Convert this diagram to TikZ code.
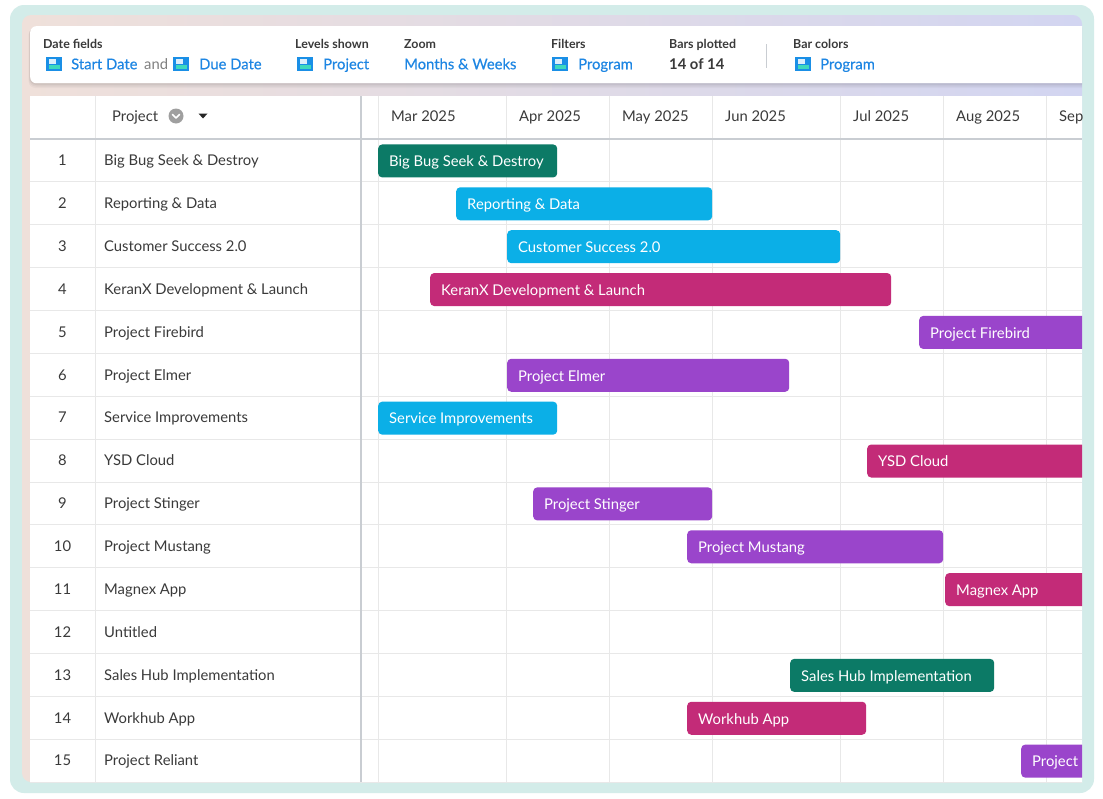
\documentclass[tikz,border=0pt]{standalone}
\usepackage{fontspec}
\setmainfont{Lato}
\definecolor{frameteal}{HTML}{D3ECE9}
\definecolor{innerpink}{HTML}{EFE0DA}
\definecolor{innerlav}{HTML}{D2D5F1}
\definecolor{tbblue}{HTML}{1E86E3}
\definecolor{icblue}{HTML}{1A8FE6}
\definecolor{icteal}{HTML}{3ED9BE}
\definecolor{txtdark}{HTML}{3A3A3A}
\definecolor{gridl}{HTML}{E8E8E8}
\definecolor{sepl}{HTML}{C9CDD2}
\definecolor{cgreen}{HTML}{0C7A66}
\definecolor{cblue}{HTML}{0BAFE7}
\definecolor{cmag}{HTML}{C32B78}
\definecolor{cpurp}{HTML}{9A45CB}
\tikzset{
  lbl/.style={font=\fontsize{12.4}{14}\selectfont\bfseries, text=txtdark, anchor=west, inner sep=0pt, text height=9.4pt, text depth=0.4pt},
  val/.style={font=\fontsize{14.8}{17}\selectfont\addfontfeature{FakeBold=0.35}, text=tbblue, anchor=west, inner sep=0pt, text height=11pt, text depth=0.5pt},
  rowtxt/.style={font=\fontsize{14.8}{17}\selectfont, text=txtdark, inner sep=0pt, text height=11pt, text depth=0.5pt},
  bartxt/.style={font=\fontsize{14.8}{17}\selectfont, text=white, anchor=west, inner sep=0pt, text height=11pt, text depth=0.5pt},
  barbox/.style={rounded corners=4pt, minimum height=33pt, inner sep=0pt, anchor=west, draw=none},
  gline/.style={draw=gridl, line width=0.9pt},
}
\newcommand\tbicon[2]{%
  \fill[icblue] (#1,#2) rectangle ++(16,14);
  \fill[white!85!icblue] (#1+2.5,#2+2.2) rectangle ++(7.5,4.3);
  \fill[icteal] (#1+2.5,#2+8) rectangle ++(11,3.6);
}
\begin{document}
\begin{tikzpicture}[x=1pt,y=-1pt]
\useasboundingbox (0,0) rectangle (1103,798);
\fill[white] (0,0) rectangle (1103,798);
\fill[frameteal, rounded corners=14pt] (10,5) rectangle (1094,793);
\shade[left color=innerpink, right color=innerlav, rounded corners=9pt] (22,15) rectangle (1082,782);
\begin{scope}
\clip (22,15) rectangle (1082,782);
% toolbar shadow
\foreach \o/\op in {5/0.03,3.5/0.04,2/0.05}{
  \fill[black, opacity=\op, rounded corners=7pt] (30-\o*0.3,26+\o*0.4) rectangle (1095,83+\o);
}
\node[fill=white, rounded corners=6pt, minimum width=1065pt, minimum height=57pt, anchor=north west, inner sep=0pt] (toolbar) at (30,26) {};
% toolbar content
\node[lbl] (l1) at (43,44) {Date fields};
\tbicon{46}{57}
\node[val] (v1a) at (71,64) {Start Date};
\node[val, font=\fontsize{14.8}{17}\selectfont, text=gray] (v1b) at (144,64) {and};
\tbicon{173}{57}
\node[val] (v1c) at (199,64) {Due Date};
\node[lbl] (l2) at (295,44) {Levels shown};
\tbicon{297}{57}
\node[val] (v2) at (323,64) {Project};
\node[lbl] (l3) at (404,44) {Zoom};
\node[val] (v3) at (404,64) {Months \& Weeks};
\node[lbl] (l4) at (551,44) {Filters};
\tbicon{552}{57}
\node[val] (v4) at (578,64) {Program};
\node[lbl] (l5) at (669,44) {Bars plotted};
\node[val, text=txtdark, font=\fontsize{14.8}{17}\selectfont\bfseries] (v5) at (669,64) {14 of 14};
\draw[sepl, line width=1pt] (766,44) -- (766,68);
\node[lbl] (l6) at (793,44) {Bar colors};
\tbicon{795}{57}
\node[val] (v6) at (820,64) {Program};
% table
\node[fill=white, minimum width=1065pt, minimum height=700pt, anchor=north west, inner sep=0pt] (table) at (30,96) {};
% row lines
\foreach \r in {1,...,15}{
  \draw[gline] (30,{139+42.87*\r}) -- (1082,{139+42.87*\r});
}
% vertical lines
\foreach \x in {95,378,506,609,712,840,943,1046}{
  \draw[gline] (\x,96) -- (\x,782);
}
\draw[sepl, line width=1.6pt] (361,96) -- (361,782);
\draw[sepl, line width=1.3pt] (30,139) -- (1082,139);
% header
\node[rowtxt, anchor=west] (hproj) at (112,116) {Project};
\fill[gray!75] (176,116) circle (7.5);
\draw[white, line width=1.6pt, line cap=round, line join=round] (172.5,114.5) -- (176,118) -- (179.5,114.5);
\fill[black!85] (198.5,113.5) -- (207.5,113.5) -- (203,118.5) -- cycle;
\foreach \x/\m in {378/Mar 2025,506/Apr 2025,609/May 2025,712/Jun 2025,840/Jul 2025,943/Aug 2025,1046/Sep 2025}{
  \node[rowtxt, anchor=west] (m\x) at (\x+13,116.5) {\m};
}
% row labels
\foreach \r/\t in {1/Big Bug Seek \& Destroy,2/Reporting \& Data,3/Customer Success 2.0,4/KeranX Development \& Launch,5/Project Firebird,6/Project Elmer,7/Service Improvements,8/YSD Cloud,9/Project Stinger,10/Project Mustang,11/Magnex App,12/Untitled,13/Sales Hub Implementation,14/Workhub App,15/Project Reliant}{
  \node[rowtxt] (n\r) at (62.5,{139+42.87*(\r-0.5)}) {\r};
  \node[rowtxt, anchor=west] (p\r) at (104,{139+42.87*(\r-0.5)}) {\t};
}
% bars
\foreach \r/\s/\e/\c/\t in {1/378/557/cgreen/Big Bug Seek \& Destroy,2/456/712/cblue/Reporting \& Data,3/507/840/cblue/Customer Success 2.0,4/430/891/cmag/KeranX Development \& Launch,5/919/1110/cpurp/Project Firebird,6/507/789/cpurp/Project Elmer,7/378/557/cblue/Service Improvements,8/867/1110/cmag/YSD Cloud,9/533/712/cpurp/Project Stinger,10/687/943/cpurp/Project Mustang,11/945/1110/cmag/Magnex App,13/790/994/cgreen/Sales Hub Implementation,14/687/866/cmag/Workhub App,15/1021/1110/cpurp/Project Reliant}{
  \node[barbox, fill=\c, minimum width={(\e-\s)*1pt}] (bar\r) at (\s,{139+42.87*(\r-0.5)+0.5}) {};
  \node[bartxt] (bt\r) at ([xshift=11pt,yshift=-0.5pt]bar\r.west) {\t};
}
\end{scope}
\end{tikzpicture}
\end{document}
